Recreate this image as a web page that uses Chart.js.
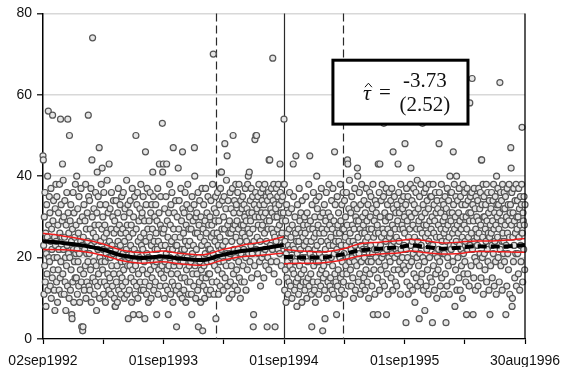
<!DOCTYPE html>
<html><head><meta charset="utf-8">
<script src="https://cdn.jsdelivr.net/npm/chart.js@4.4.0/dist/chart.umd.min.js"></script>
<style>html,body{margin:0;padding:0;background:#fff;}canvas{display:block;}</style>
</head><body>
<canvas id="c" width="563" height="367"></canvas>
<script>
// ---- axis / category data ----
const tickDays = [0, 364, 729, 1094, 1458];
const tickLabels = ['02sep1992', '01sep1993', '01sep1994', '01sep1995', '30aug1996'];
const minorTickDays = [182, 546.5, 911.5, 1276];
const yTicks = [0, 20, 40, 60, 80];
const yearStartDays = [0, 364, 729, 1094];

// ---- daily observations (one value per day from each start day) ----
const obsSep92 = [
45,44,23,11,30,18,36,14,26,8,21,33,16,25,40,12,56,28,20,35,
19,31,13,24,37,10,27,22,15,55,29,17,34,20,12,25,7,32,23,38,
24,14,35,20,9,28,17,31,22,12,38,26,15,54,19,33,11,25,29,43,
16,39,22,30,11,25,34,14,20,7,28,18,36,23,13,54,31,21,26,10,
50,20,29,12,33,17,24,6,5,27,14,36,22,9,31,19,25,15,38,21,
28,15,40,22,11,32,19,26,13,35,21,9,29,17,24,37,14,3,23,30,
2,3,25,16,33,12,22,29,18,38,10,27,21,14,31,24,19,55,35,13,
21,34,12,27,17,37,9,23,44,30,74,15,26,19,32,11,24,28,14,36,
25,18,7,31,41,13,22,35,16,28,47,10,20,33,24,14,38,19,27,42,
17,30,22,11,36,25,14,28,19,9,33,21,26,13,39,23,16,31,20,12,
43,24,15,32,20,11,27,36,18,23,13,30,21,34,16,26,10,29,8,8,
22,34,14,27,18,9,31,24,37,12,20,28,16,33,23,11,26,19,35,15,
13,27,21,36,17,30,10,24,32,19,14,26,22,39,11,28,18,33,5,20,
25,12,31,18,34,23,15,28,9,21,37,17,26,6,30,14,22,35,19,11,
18,50,27,13,33,21,36,10,24,16,29,6,20,32,14,25,38,12,23,30,
31,17,22,35,12,26,19,29,5,14,46,24,33,11,21,37,16,27,20,9,
20,29,13,25,36,17,31,10,23,33,15,27,41,19,35,12,24,18,30,22,
14,33,26,19,6,29,22,37,11,24,17,31,43,20,13,28,35,16,23,27,
18,53,41,26];
const obsSep93 = [
43,15,27,10,32,19,23,13,35,21,43,17,29,12,25,6,31,18,22,38,
20,28,11,33,16,24,36,14,22,9,47,27,18,31,13,25,19,34,23,12,
3,23,30,16,20,42,13,27,34,18,11,25,21,37,15,29,22,10,46,32,
19,26,12,31,22,15,36,24,9,28,17,33,20,14,38,23,11,27,18,30,
24,14,32,19,27,11,6,35,21,16,29,23,13,33,47,40,18,26,10,30,
22,31,16,26,12,36,3,20,28,14,34,19,25,9,30,17,23,37,15,2,
27,13,33,18,24,10,29,21,37,15,26,12,31,19,23,35,16,28,22,11,
16,30,22,12,34,25,19,28,14,38,21,70,26,11,32,18,24,29,35,5,
31,20,14,26,36,17,23,11,29,33,19,25,13,37,41,22,41,27,16,34,
23,12,30,19,35,27,48,15,24,32,18,39,21,45,13,28,34,20,26,10,
29,21,36,14,26,32,18,24,11,37,27,50,16,31,22,34,13,28,20,38,
25,33,17,29,12,36,22,27,19,38,15,31,24,10,34,21,28,14,32,26,
35,18,28,22,33,14,30,25,37,20,12,29,24,32,17,38,27,40,21,31,
41,26,19,34,29,23,37,15,31,21,35,27,3,6,24,33,18,49,30,36,
50,22,50,32,25,16,35,28,21,38,30,19,33,24,13,36,27,31,20,34,
28,37,21,30,15,33,26,38,22,31,18,35,24,29,3,34,20,27,36,17,
44,29,44,35,23,32,19,37,27,31,22,69,34,26,38,16,30,25,3,33,
32,24,37,19,30,27,35,22,38,14,33,28,21,43,36,25,31,18,34,26,
29,35,23,31,38];
const obsSep94 = [
54,38,12,24,17,29,9,21,33,15,26,19,11,23,31,14,27,36,18,22,
13,25,20,32,10,28,17,23,43,35,16,22,12,30,19,26,45,14,24,8,
21,33,15,27,11,24,37,18,29,13,22,31,16,26,9,34,20,25,14,28,
17,23,30,12,26,20,35,14,24,10,31,19,28,15,22,38,13,27,45,21,
29,16,24,11,3,33,20,27,14,36,18,25,12,30,22,9,26,34,19,40,
23,32,14,28,19,11,35,21,26,16,30,13,24,37,17,27,20,2,31,15,
18,26,33,12,5,22,29,16,36,20,10,27,24,14,31,19,38,23,28,13,
30,15,25,20,34,12,27,18,37,23,11,29,21,46,16,33,24,14,26,6,
22,35,13,28,17,31,24,10,26,20,38,15,29,23,12,33,19,27,16,36,
14,27,21,34,11,25,30,18,23,36,16,28,44,43,20,13,32,24,39,19,
26,17,31,22,13,35,20,28,15,24,10,33,27,19,37,23,12,30,21,29,
18,32,42,40,25,14,29,21,36,16,27,11,33,23,19,38,26,13,30,22,
28,15,34,20,26,12,31,24,17,37,22,29,14,25,33,19,10,27,21,36,
16,30,23,35,19,27,13,32,21,38,6,25,17,29,22,11,34,26,20,31,
33,22,28,15,6,43,26,19,36,12,43,30,23,17,34,25,20,38,14,27,
21,35,53,26,13,31,18,29,24,37,6,22,16,33,27,11,30,20,36,25,
30,19,26,34,15,23,37,21,28,12,46,32,24,17,35,20,27,14,31,22,
25,13,33,21,29,43,17,36,24,31,19,27,11,38,22,34,16,28,20,32,
27,18,35,23,30];
const obsSep95 = [
26,48,17,33,4,22,37,14,29,20,35,11,25,31,18,27,13,38,23,42,
30,19,34,24,12,28,21,37,16,33,25,9,31,22,36,15,27,20,39,13,
24,32,18,29,5,35,21,27,14,38,23,30,16,26,53,20,33,12,28,36,
19,7,31,25,37,13,28,22,34,17,26,11,32,24,38,20,29,15,35,23,
27,35,14,30,4,23,38,18,26,33,12,29,21,36,16,31,25,10,34,20,
32,17,28,22,48,36,19,25,13,31,27,38,15,24,34,21,29,11,33,26,
21,30,35,16,27,4,32,24,13,37,20,28,18,34,25,11,31,40,23,36,
29,22,36,14,31,26,19,46,33,23,38,27,8,30,17,35,24,40,12,28,
34,20,26,31,15,37,23,29,12,35,22,27,18,33,25,10,30,38,21,16,
28,36,19,24,33,14,30,6,27,37,22,16,34,25,31,13,29,58,23,35,
31,18,26,36,64,22,33,6,29,15,37,24,20,32,12,27,35,19,30,25,
23,34,13,29,37,26,18,32,21,36,28,15,44,44,33,20,25,38,11,30,
35,21,30,17,27,33,24,38,14,29,22,36,19,26,31,12,34,25,6,28,
18,32,26,36,23,15,29,34,21,38,27,13,31,24,35,19,28,11,40,33,
30,25,37,20,33,27,14,31,63,22,36,18,29,34,24,12,38,26,32,21,
24,36,19,32,28,35,6,23,30,13,37,26,21,33,17,29,38,25,11,31,
33,47,42,28,36,8,10,25,31,19,37,23,29,15,34,26,21,38,13,30,
27,34,21,30,16,37,25,32,12,28,35,23,19,33,38,52,26,14,31,29,
22,35,28,17,33];

// ---- local fit and confidence band ----
const fitDaysBefore = [0, 60, 120, 180, 240, 300, 360, 420, 480, 540, 600, 660, 728];
const fitBefore     = [24.0, 23.6, 23.0, 22.0, 20.5, 19.9, 20.3, 19.7, 19.4, 20.6, 21.6, 22.2, 23.1];
const upperBefore   = [26.0, 25.3, 24.5, 23.4, 21.8, 21.2, 21.6, 21.0, 20.7, 21.9, 23.0, 23.8, 25.1];
const lowerBefore   = [22.0, 21.9, 21.5, 20.6, 19.2, 18.6, 19.0, 18.4, 18.1, 19.3, 20.2, 20.6, 21.1];
const fitDaysAfter  = [729, 780, 840, 900, 960, 1020, 1080, 1110, 1160, 1210, 1260, 1310, 1360, 1410, 1458];
const fitAfter      = [20.2, 20.0, 20.0, 20.7, 21.8, 22.2, 22.6, 23.0, 22.6, 22.2, 22.4, 22.8, 22.7, 22.8, 23.1];
const upperAfter    = [22.0, 21.6, 21.4, 22.0, 23.4, 23.8, 24.2, 24.5, 24.1, 23.6, 23.8, 24.1, 24.1, 24.3, 24.7];
const lowerAfter    = [18.5, 18.6, 18.7, 19.3, 20.4, 20.9, 21.2, 21.6, 21.2, 20.9, 21.0, 21.5, 21.5, 21.4, 21.3];

// ---- reference lines and estimate ----
const cutoffDay = 729;
const windowDays = [523, 906];
const tauEstimate = '-3.73';
const tauStdErr = '(2.52)';
const boxCorners = {dayLeft: 877, dayRight: 1285.5, valTop: 68.5, valBottom: 52.8};

// ---- build ----
const points = [obsSep92, obsSep93, obsSep94, obsSep95]
  .flatMap((arr, k) => arr.map((v, i) => ({x: yearStartDays[k] + i, y: v})));
const toXY = (days, vals) => days.map((d, i) => ({x: d, y: vals[i]}));
const allTicks = [...tickDays, ...minorTickDays].sort((a, b) => a - b);

const RED = '#ee1c1c';
const lineDs = (data, color, width, dash, order) => ({
  type: 'line', data, borderColor: color, borderWidth: width, borderDash: dash,
  pointRadius: 0, fill: false, cubicInterpolationMode: 'monotone', order, clip: false
});

const overlay = {
  id: 'overlay',
  beforeDatasetsDraw(chart) {
    const {ctx, chartArea: a, scales: {x}} = chart;
    ctx.save();
    ctx.strokeStyle = '#2a2a2a';
    ctx.lineWidth = 1.2;
    ctx.setLineDash([8, 4]);
    windowDays.forEach(d => {
      const px = Math.round(x.getPixelForValue(d)) + 0.5;
      ctx.beginPath(); ctx.moveTo(px, a.top); ctx.lineTo(px, a.bottom); ctx.stroke();
    });
    ctx.setLineDash([]);
    const cx = Math.round(x.getPixelForValue(cutoffDay)) + 0.5;
    ctx.beginPath(); ctx.moveTo(cx, a.top); ctx.lineTo(cx, a.bottom); ctx.stroke();
    ctx.restore();
  },
  afterDatasetsDraw(chart) {
    const {ctx, chartArea: a, scales: {x, y}} = chart;
    ctx.save();
    ctx.strokeStyle = '#000'; ctx.lineWidth = 1.3;
    ctx.beginPath(); ctx.moveTo(a.right, a.top); ctx.lineTo(a.right, a.bottom); ctx.stroke();
    const L = x.getPixelForValue(boxCorners.dayLeft), R = x.getPixelForValue(boxCorners.dayRight);
    const T = y.getPixelForValue(boxCorners.valTop), B = y.getPixelForValue(boxCorners.valBottom);
    ctx.fillStyle = '#fff';
    ctx.fillRect(L, T, R - L, B - T);
    ctx.lineWidth = 3; ctx.strokeStyle = '#000';
    ctx.strokeRect(L, T, R - L, B - T);
    ctx.fillStyle = '#111';
    ctx.textBaseline = 'alphabetic';
    ctx.textAlign = 'left';
    ctx.font = 'italic 22px "Liberation Serif", "DejaVu Serif", serif';
    const tx = L + 30, base = T + 40;
    ctx.fillText('τ', tx, base);
    ctx.lineWidth = 1; ctx.strokeStyle = '#111';
    ctx.beginPath(); ctx.moveTo(tx + 2, base - 13); ctx.lineTo(tx + 5.5, base - 17); ctx.lineTo(tx + 9, base - 13); ctx.stroke();
    ctx.font = '21px "Liberation Serif", "DejaVu Serif", serif';
    ctx.fillText('=', tx + 16, base - 1);
    ctx.textAlign = 'center';
    const fx = L + 92;
    ctx.fillText(tauEstimate, fx, T + 27);
    ctx.fillText(tauStdErr, fx, T + 51);
    ctx.restore();
  }
};

const FONT = {family: '"Liberation Sans", Arial, sans-serif', size: 14};

new Chart(document.getElementById('c'), {
  type: 'scatter',
  data: {
    datasets: [
      {type: 'scatter', data: points, pointRadius: 3, pointBorderWidth: 1.2,
       pointBackgroundColor: '#e6e6e6', pointBorderColor: '#555', order: 10, clip: false},
      lineDs(toXY(fitDaysBefore, upperBefore), RED, 1.5, [], 5),
      lineDs(toXY(fitDaysBefore, lowerBefore), RED, 1.5, [], 5),
      lineDs(toXY(fitDaysAfter, upperAfter), RED, 1.5, [], 5),
      lineDs(toXY(fitDaysAfter, lowerAfter), RED, 1.5, [], 5),
      lineDs(toXY(fitDaysBefore, fitBefore), '#000', 4, [], 1),
      lineDs(toXY(fitDaysAfter, fitAfter), '#000', 4, [9, 4], 1)
    ]
  },
  options: {
    responsive: false, animation: false, devicePixelRatio: 1,
    layout: {padding: {top: 13, right: 38, left: 0, bottom: 0}},
    plugins: {legend: {display: false}, tooltip: {enabled: false}},
    scales: {
      x: {
        type: 'linear', min: 0, max: 1458,
        afterBuildTicks: s => { s.ticks = allTicks.map(v => ({value: v})); },
        afterFit: s => { s.height = 28; s.paddingLeft = 0; s.paddingRight = 0; },
        ticks: {autoSkip: false, maxRotation: 0, minRotation: 0, padding: 9, color: '#111', font: FONT,
          callback: v => { const i = tickDays.indexOf(v); return i >= 0 ? tickLabels[i] : ''; }},
        grid: {drawOnChartArea: false, drawTicks: true, tickLength: 5, tickColor: '#000', tickWidth: 1.2},
        border: {display: true, color: '#000', width: 1.3}
      },
      y: {
        min: 0, max: 80,
        afterBuildTicks: s => { s.ticks = yTicks.map(v => ({value: v})); },
        afterFit: s => { s.width = 43; },
        ticks: {padding: 5, color: '#111', font: FONT},
        grid: {color: '#d8d8d8', lineWidth: 1.6, tickLength: 6, tickColor: '#000', tickWidth: 1.2},
        border: {color: '#000', width: 1.5}
      }
    }
  },
  plugins: [overlay]
});
</script>
</body></html>
